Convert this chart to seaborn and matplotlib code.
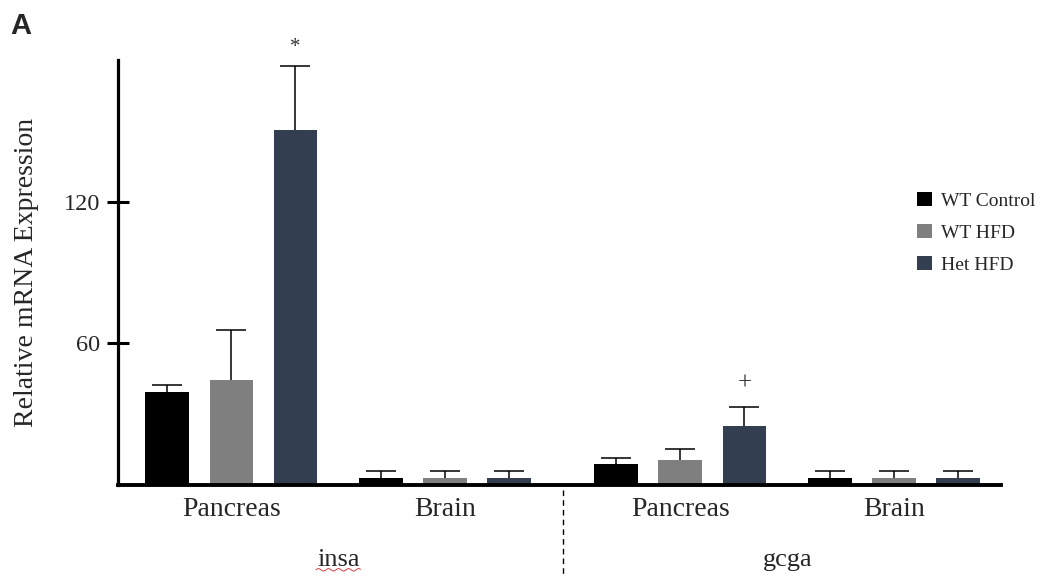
import numpy as np
import pandas as pd
import matplotlib
matplotlib.use("Agg")
import matplotlib.pyplot as plt
import seaborn as sns
from matplotlib.transforms import blended_transform_factory

# ---- data -------------------------------------------------------------
genes = ["insa", "insa", "gcga", "gcga"]
tissues = ["Pancreas", "Brain", "Pancreas", "Brain"]
positions = [0.0, 1.0, 2.1, 3.1]          # x location of each tissue group
groups = ["WT Control", "WT HFD", "Het HFD"]
colors = ["#000000", "#7f7f7f", "#333f50"]

wt_control_mean = [39.5, 3.0, 8.7, 3.0]
wt_hfd_mean = [44.5, 3.0, 10.6, 3.0]
het_hfd_mean = [150.5, 3.0, 25.0, 3.0]

wt_control_err = [2.8, 2.8, 2.8, 2.8]
wt_hfd_err = [21.0, 2.8, 4.7, 2.8]
het_hfd_err = [27.0, 2.8, 7.9, 2.8]

# significance marks: (group, tissue index, symbol)
marks = [("Het HFD", 0, "*"), ("Het HFD", 2, "+")]

means = dict(zip(groups, [wt_control_mean, wt_hfd_mean, het_hfd_mean]))
errs = dict(zip(groups, [wt_control_err, wt_hfd_err, het_hfd_err]))

df = pd.DataFrame(
    [
        {"pos": p, "tissue": t, "gene": g, "group": grp, "value": means[grp][i]}
        for grp in groups
        for i, (p, t, g) in enumerate(zip(positions, tissues, genes))
    ]
)

# ---- style ------------------------------------------------------------
sns.set_style("white")
plt.rcParams["font.family"] = ["Liberation Serif", "DejaVu Serif"]
serif = "Liberation Serif"

fig = plt.figure(figsize=(10.42, 5.78), dpi=100)
ax = fig.add_axes([118 / 1042, 93 / 578, 883 / 1042, 425 / 578])

sns.barplot(
    data=df, x="pos", y="value", hue="group", hue_order=groups,
    palette=colors, native_scale=True, width=0.9, gap=0.32,
    errorbar=None, saturation=1, linewidth=0, ax=ax,
)

# ---- upper error bars from bar geometry --------------------------------
cap_half = 0.07
bar_tops = {}
for grp, container in zip(groups, ax.containers):
    for patch in container:
        if patch.get_width() < 0.05:
            continue
        xc = patch.get_x() + patch.get_width() / 2
        j = int(np.argmin([abs(xc - p) for p in positions]))
        top = patch.get_height()
        e = errs[grp][j]
        ax.vlines(xc, top, top + e, color="black", lw=1.1, zorder=3)
        ax.hlines(top + e, xc - cap_half, xc + cap_half, color="black", lw=1.1, zorder=3)
        bar_tops[(grp, j)] = (xc, top + e)

for grp, j, sym in marks:
    xc, ytop = bar_tops[(grp, j)]
    ax.annotate(sym, xy=(xc, ytop), xytext=(0, 13 if sym == "*" else 17),
                textcoords="offset points", ha="center", va="center",
                fontsize=15 if sym == "*" else 18, color="#333333",
                family=serif, annotation_clip=False)

# ---- axes -------------------------------------------------------------
ax.set_xlim(-0.53, 3.6)
ax.set_ylim(0, 180)
ax.set_yticks([60, 120])
ax.set_yticklabels(["60", "120"], fontsize=17.5, family=serif)
ax.set_xticks(positions)
ax.set_xticklabels(tissues, fontsize=20, family=serif)
ax.tick_params(axis="y", direction="inout", length=16, width=2.2, pad=5,
               color="black", left=True)
ax.tick_params(axis="x", length=0, pad=9)
ax.set_xlabel("")
ax.set_ylabel("Relative mRNA Expression", fontsize=20, family=serif, labelpad=18)

for side in ["top", "right"]:
    ax.spines[side].set_visible(False)
ax.spines["left"].set_linewidth(2.3)
ax.spines["bottom"].set_linewidth(2.8)
ax.spines["left"].set_color("black")
ax.spines["bottom"].set_color("black")

# gene labels under each pair of tissues, with a dashed divider
trans = blended_transform_factory(ax.transData, ax.transAxes)
gene_texts = []
for g in ["insa", "gcga"]:
    idx = [i for i, gg in enumerate(genes) if gg == g]
    xc = np.mean([positions[i] for i in idx])
    gene_texts.append(ax.text(xc, -0.176, g, transform=trans, ha="center",
                              va="center", fontsize=19, family=serif))
div_x = (positions[1] + positions[2]) / 2
ax.plot([div_x, div_x], [-0.012, -0.24], transform=trans, clip_on=False,
        color="black", lw=1, ls=(0, (4, 3)))

# ---- legend -----------------------------------------------------------
handles, labels = ax.get_legend_handles_labels()
ax.legend(handles, labels, loc="upper left",
          bbox_to_anchor=(917 / 1042, 1 - 192 / 578), bbox_transform=fig.transFigure,
          frameon=False, prop={"family": serif, "size": 14},
          handlelength=0.75, handleheight=0.75, handletextpad=0.5,
          labelspacing=0.72, borderpad=0, borderaxespad=0)

fig.text(10 / 1042, 1 - 12 / 578, "A", fontsize=21, weight="bold",
         family="Liberation Sans", va="top", ha="left")

# red spell-check squiggle under the "insa" label
fig.canvas.draw()
bb = gene_texts[0].get_window_extent()
xs = np.linspace(bb.x0 - 1, bb.x1 + 1, 60)
ys = bb.y0 + 1 + 1.2 * np.sin((xs - xs[0]) / 1.6)
inv = fig.transFigure.inverted()
pts = inv.transform(np.column_stack([xs, ys]))
fig.add_artist(matplotlib.lines.Line2D(pts[:, 0], pts[:, 1], color="#d04040", lw=0.7))

fig.savefig("out.png", dpi=100)
